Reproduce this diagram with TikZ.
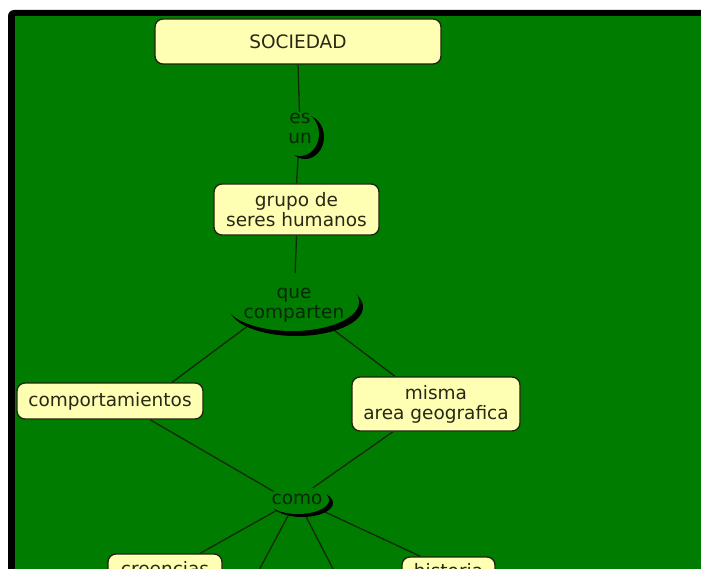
\documentclass[tikz,border=0pt]{standalone}
\usepackage{fontspec}
\setmainfont{DejaVu Sans}
\usetikzlibrary{calc}
\pgfdeclarelayer{back}
\pgfdeclarelayer{lines}
\pgfsetlayers{back,lines,main}
\definecolor{bggreen}{RGB}{0,124,0}
\definecolor{boxfill}{RGB}{255,255,180}
\definecolor{boxline}{RGB}{30,35,15}
\definecolor{boxtext}{RGB}{40,40,20}
\definecolor{linktext}{RGB}{5,40,5}
\definecolor{connc}{RGB}{20,40,10}
\begin{document}
\begin{tikzpicture}[x=1bp,y=-1bp,
  cbox/.style={draw=boxline, line width=1.3bp, fill=boxfill, rounded corners=8bp, text=boxtext, align=center, font=\fontsize{18.5bp}{20bp}\selectfont, inner sep=0pt},
  ltext/.style={text=linktext, align=center, font=\fontsize{18.5bp}{20bp}\selectfont, inner sep=0pt},
  cline/.style={draw=connc, line width=1.3bp},
  lshadow/.style={fill=black},
  lfill/.style={fill=bggreen}]
\useasboundingbox (0,0) rectangle (701,569);
\begin{pgfonlayer}{back}
  \clip (0,0) rectangle (701,569);
  \fill[white] (-5,-5) rectangle (720,590);
  \fill[black] (8,590) -- (8,16) .. controls (8,12.7) and (10.7,10) .. (14,10) -- (720,10) -- (720,590) -- cycle;
  \fill[bggreen] (15,16) rectangle (720,590);
\end{pgfonlayer}
\clip (0,0) rectangle (701,569);
% concepts
\node[cbox, minimum width=286bp, minimum height=45bp] (soc) at (298,41.5) {SOCIEDAD};
\node[cbox, minimum width=165bp, minimum height=51bp] (grupo) at (296.5,209.5) {grupo de\\seres humanos};
\node[cbox, minimum width=186bp, minimum height=36bp] (comp) at (110,401) {comportamientos};
\node[cbox, minimum width=168bp, minimum height=54bp] (misma) at (436,404) {misma\\area geografica};
\node[cbox, minimum width=114bp, minimum height=30bp] (cre) at (165,569) {creencias};
\node[cbox, minimum width=93bp, minimum height=28bp] (his) at (448.5,571) {historia};
% linking phrases
\fill[lshadow] (305,137) ellipse [x radius=19bp, y radius=22bp];
\fill[lfill] (300,134) ellipse [x radius=19bp, y radius=22bp];
\node[ltext] (esun) at (300,128) {es\\un};
\fill[lshadow] (296,307) ellipse [x radius=67bp, y radius=29bp];
\fill[lfill] (292,302) ellipse [x radius=67bp, y radius=29bp];
\node[ltext] (que) at (294,305) {que\\comparten};
\fill[lshadow] (302,503) ellipse [x radius=31bp, y radius=14bp];
\fill[lfill] (298,500) ellipse [x radius=31bp, y radius=14bp];
\node[ltext] (como) at (297,499) {como};
\coordinate (c2) at (243,600);
\coordinate (c3) at (349,600);
% connectors
\begin{pgfonlayer}{lines}
  \clip (0,0) rectangle (701,569);
  \draw[cline] (soc.south) -- (esun.center);
  \draw[cline] (esun.center) -- (grupo.north);
  \draw[cline] (grupo.south) -- (que.center);
  \draw[cline] ($(que.center)+(-18,0)$) -- ($(comp.north)+(62,0)$);
  \draw[cline] ($(que.center)+(12,4)$) -- ($(misma.north)+(-41,0)$);
  \draw[cline] ($(comp.south)+(40,0)$) -- ($(como.center)+(0,6)$);
  \draw[cline] ($(misma.south)+(-43,0)$) -- (como.center);
  \draw[cline] (como.center) -- ($(cre.north)+(35,0)$);
  \draw[cline] (como.center) -- (c2);
  \draw[cline] (como.center) -- (c3);
  \draw[cline] (como.center) -- ($(his.north)+(-28,0)$);
\end{pgfonlayer}
\end{tikzpicture}
\end{document}
